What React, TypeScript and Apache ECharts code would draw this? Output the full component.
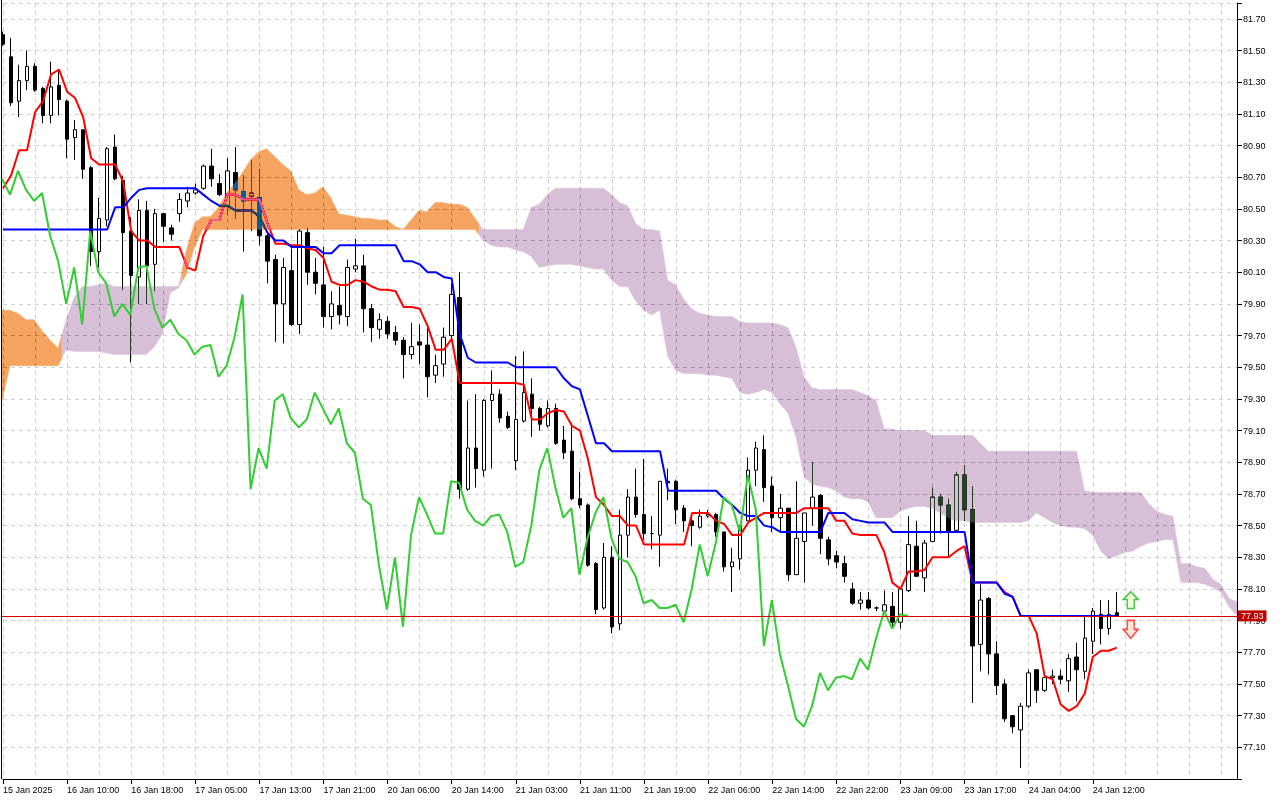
import React, { useEffect, useRef } from "react";
import * as echarts from "echarts";

// ---------- data ----------
const tickLabels = [
  "15 Jan 2025", "16 Jan 10:00", "16 Jan 18:00", "17 Jan 05:00", "17 Jan 13:00", "17 Jan 21:00",
  "20 Jan 06:00", "20 Jan 14:00", "21 Jan 03:00", "21 Jan 11:00", "21 Jan 19:00", "22 Jan 06:00",
  "22 Jan 14:00", "22 Jan 22:00", "23 Jan 09:00", "23 Jan 17:00", "24 Jan 04:00", "24 Jan 12:00",
];

const opens = [
  81.60, 81.46, 81.18, 81.31, 81.40, 81.26, 81.09, 81.28, 81.18, 80.95,
  81.00, 80.76, 80.23, 80.43, 80.89, 80.68, 80.36, 80.07, 80.49, 80.15,
  80.47, 80.38, 80.47, 80.55, 80.60, 80.63, 80.77, 80.66, 80.52, 80.73,
  80.61, 80.58, 80.57, 80.33, 80.18, 79.90, 80.11, 79.77, 80.35, 80.10,
  80.02, 79.82, 79.89, 79.82, 80.12, 80.14, 79.87, 79.74, 79.79, 79.72,
  79.67, 79.58, 79.66, 79.64, 79.45, 79.52, 79.70, 79.94, 78.73, 78.99,
  78.85, 79.29, 79.33, 79.19, 78.91, 79.16, 79.33, 79.24, 79.13, 79.24,
  79.04, 78.97, 78.67, 78.63, 78.26, 77.98, 78.30, 77.88, 78.44, 78.68,
  78.57, 78.45, 78.44, 78.78, 78.78, 78.61, 78.53, 78.49, 78.56, 78.57,
  78.46, 78.24, 78.29, 78.53, 78.85, 78.98, 78.75, 78.55, 78.61, 78.19,
  78.40, 78.61, 78.69, 78.41, 78.31, 78.26, 78.10, 78.01, 78.03, 77.98,
  77.96, 77.99, 77.89, 78.09, 78.37, 78.17, 78.40, 78.68, 78.63, 78.47,
  78.82, 78.60, 77.75, 78.04, 77.69, 77.50, 77.30, 77.21, 77.36, 77.59,
  77.46, 77.54, 77.55, 77.52, 77.67, 77.58, 77.77, 77.94, 77.85, 77.95,
];

const highs = [
  81.62, 81.58, 81.41, 81.50, 81.42, 81.27, 81.43, 81.38, 81.19, 81.06,
  81.00, 80.77, 80.57, 80.89, 80.97, 80.71, 80.45, 80.56, 80.55, 80.50,
  80.47, 80.40, 80.60, 80.64, 80.66, 80.78, 80.88, 80.72, 80.82, 80.89,
  80.71, 80.81, 80.75, 80.36, 80.21, 80.19, 80.25, 80.37, 80.38, 80.19,
  80.26, 79.98, 80.01, 80.18, 80.31, 80.21, 79.90, 79.84, 79.82, 79.76,
  79.69, 79.78, 79.77, 79.75, 79.58, 79.75, 80.03, 80.10, 79.29, 79.33,
  79.30, 79.48, 79.36, 79.22, 79.57, 79.60, 79.43, 79.25, 79.29, 79.27,
  79.13, 79.15, 78.84, 78.64, 78.27, 78.39, 78.37, 78.60, 78.73, 78.86,
  78.92, 78.56, 78.78, 78.86, 78.79, 78.63, 78.57, 78.60, 78.60, 78.58,
  78.46, 78.36, 78.50, 78.93, 79.03, 79.07, 78.81, 78.70, 78.61, 78.78,
  78.58, 78.90, 78.70, 78.43, 78.34, 78.31, 78.14, 78.08, 78.08, 77.99,
  78.09, 78.08, 78.10, 78.56, 78.53, 78.41, 78.74, 78.70, 78.67, 78.84,
  78.88, 78.75, 78.13, 78.05, 77.77, 77.53, 77.30, 77.38, 77.59, 77.59,
  77.54, 77.59, 77.59, 77.69, 77.76, 77.93, 77.98, 78.03, 78.03, 78.08,
];

const lows = [
  81.53, 81.15, 81.08, 81.25, 81.24, 81.04, 81.04, 81.09, 80.82, 80.81,
  80.69, 80.14, 80.13, 80.39, 80.68, 79.99, 79.53, 79.90, 79.90, 79.98,
  80.29, 80.30, 80.42, 80.51, 80.59, 80.62, 80.64, 80.58, 80.46, 80.44,
  80.23, 80.36, 80.27, 80.03, 79.66, 79.65, 79.76, 79.71, 80.02, 79.96,
  79.75, 79.74, 79.77, 79.76, 80.10, 79.72, 79.66, 79.68, 79.68, 79.64,
  79.43, 79.55, 79.52, 79.31, 79.40, 79.44, 79.67, 78.67, 78.72, 78.74,
  78.81, 78.86, 79.15, 79.11, 78.85, 79.15, 79.06, 79.10, 79.12, 79.01,
  78.92, 78.66, 78.61, 78.24, 77.94, 77.97, 77.82, 77.84, 78.30, 78.55,
  78.41, 78.35, 78.24, 78.66, 78.51, 78.46, 78.37, 78.48, 78.55, 78.43,
  78.21, 78.08, 78.22, 78.53, 78.75, 78.65, 78.46, 78.46, 78.15, 78.19,
  78.14, 78.50, 78.32, 78.25, 78.23, 78.14, 78.00, 77.97, 77.97, 77.96,
  77.95, 77.85, 77.85, 78.08, 78.18, 78.08, 78.40, 78.45, 78.30, 78.46,
  78.53, 77.38, 77.58, 77.56, 77.43, 77.26, 77.19, 76.97, 77.35, 77.38,
  77.45, 77.50, 77.50, 77.45, 77.39, 77.53, 77.69, 77.75, 77.81, 77.93,
];

const closes = [
  81.54, 81.17, 81.31, 81.40, 81.25, 81.09, 81.27, 81.19, 80.94, 81.00,
  80.75, 80.23, 80.44, 80.88, 80.69, 80.35, 80.08, 80.49, 80.14, 80.47,
  80.39, 80.34, 80.56, 80.60, 80.62, 80.77, 80.69, 80.59, 80.74, 80.62,
  80.55, 80.60, 80.33, 80.17, 79.90, 80.13, 79.77, 80.36, 80.10, 80.03,
  79.82, 79.90, 79.83, 80.13, 80.14, 79.87, 79.75, 79.80, 79.71, 79.67,
  79.58, 79.63, 79.64, 79.44, 79.51, 79.69, 79.96, 78.73, 78.99, 78.86,
  79.29, 79.33, 79.18, 79.12, 79.17, 79.34, 79.24, 79.14, 79.24, 79.02,
  78.96, 78.67, 78.63, 78.25, 77.97, 78.30, 77.86, 78.44, 78.68, 78.57,
  78.45, 78.45, 78.78, 78.77, 78.60, 78.53, 78.50, 78.56, 78.57, 78.46,
  78.24, 78.27, 78.50, 78.85, 78.99, 78.74, 78.55, 78.61, 78.19, 78.42,
  78.58, 78.68, 78.42, 78.29, 78.27, 78.18, 78.01, 78.03, 77.98, 77.98,
  78.00, 77.89, 78.10, 78.38, 78.18, 78.39, 78.68, 78.63, 78.46, 78.82,
  78.60, 77.74, 78.03, 77.69, 77.49, 77.28, 77.23, 77.36, 77.57, 77.46,
  77.54, 77.55, 77.53, 77.66, 77.59, 77.79, 77.96, 77.85, 77.94, 77.93,
];

// Tenkan-sen (red)
const tenkan = [
  80.63, 80.71, 80.87, 80.87, 81.11, 81.18, 81.35, 81.38, 81.24, 81.20,
  81.08, 80.82, 80.78, 80.78, 80.78, 80.67, 80.36, 80.30, 80.30, 80.26,
  80.26, 80.26, 80.26, 80.13, 80.11, 80.33, 80.43, 80.43, 80.59, 80.59,
  80.56, 80.56, 80.56, 80.41, 80.28, 80.28, 80.27, 80.27, 80.25, 80.24,
  80.19, 80.04, 80.02, 80.02, 80.05, 80.04, 80.01, 79.99, 79.99, 79.98,
  79.88, 79.88, 79.87, 79.76, 79.61, 79.61, 79.68, 79.40, 79.40, 79.40,
  79.40, 79.40, 79.40, 79.40, 79.40, 79.39, 79.17, 79.17, 79.21, 79.23,
  79.22, 79.13, 79.10, 78.92, 78.68, 78.63, 78.56, 78.56, 78.50, 78.50,
  78.38, 78.38, 78.38, 78.38, 78.38, 78.38, 78.58, 78.58, 78.58, 78.53,
  78.51, 78.44, 78.44, 78.52, 78.55, 78.58, 78.58, 78.58, 78.58, 78.58,
  78.61, 78.61, 78.61, 78.61, 78.53, 78.53, 78.45, 78.44, 78.44, 78.44,
  78.33, 78.14, 78.10, 78.21, 78.21, 78.22, 78.30, 78.30, 78.30, 78.34,
  78.37, 78.14, 78.14, 78.14, 78.14, 78.08, 78.05, 77.93, 77.93, 77.82,
  77.55, 77.53, 77.37, 77.33, 77.36, 77.44, 77.67, 77.71, 77.71, 77.73,
];

// Kijun-sen (blue)
const kijun = [
  80.37, 80.37, 80.37, 80.37, 80.37, 80.37, 80.37, 80.37, 80.37, 80.37,
  80.37, 80.37, 80.37, 80.37, 80.51, 80.51, 80.57, 80.62, 80.63, 80.63,
  80.63, 80.63, 80.63, 80.63, 80.63, 80.59, 80.55, 80.52, 80.52, 80.49,
  80.49, 80.49, 80.45, 80.35, 80.30, 80.30, 80.26, 80.26, 80.26, 80.26,
  80.22, 80.22, 80.27, 80.27, 80.27, 80.27, 80.27, 80.27, 80.27, 80.27,
  80.17, 80.17, 80.15, 80.10, 80.10, 80.07, 80.06, 79.71, 79.56, 79.53,
  79.53, 79.53, 79.53, 79.53, 79.50, 79.50, 79.50, 79.50, 79.50, 79.50,
  79.43, 79.38, 79.36, 79.19, 79.02, 79.02, 78.97, 78.97, 78.97, 78.97,
  78.97, 78.97, 78.97, 78.72, 78.72, 78.72, 78.72, 78.72, 78.72, 78.72,
  78.67, 78.63, 78.58, 78.56, 78.56, 78.50, 78.49, 78.46, 78.46, 78.46,
  78.46, 78.46, 78.46, 78.58, 78.58, 78.58, 78.54, 78.53, 78.52, 78.52,
  78.52, 78.46, 78.46, 78.46, 78.46, 78.46, 78.46, 78.46, 78.46, 78.46,
  78.46, 78.14, 78.14, 78.14, 78.14, 78.07, 78.05, 77.93, 77.93, 77.93,
  77.93, 77.93, 77.93, 77.93, 77.93, 77.93, 77.93, 77.93, 77.93, 77.93,
];

// Senkou span A / B (already shifted forward on the chart)
const spanA = [
  79.86, 79.86, 79.84, 79.80, 79.80, 79.73, 79.67, 79.62, 79.61, 79.60,
  79.60, 79.60, 79.60, 79.59, 79.58, 79.58, 79.58, 79.58, 79.58, 79.63,
  79.71, 79.97, 80.00, 80.24, 80.41, 80.45, 80.45, 80.51, 80.60, 80.66,
  80.73, 80.81, 80.86, 80.88, 80.83, 80.78, 80.74, 80.62, 80.59, 80.60,
  80.64, 80.57, 80.47, 80.46, 80.45, 80.44, 80.44, 80.43, 80.43, 80.39,
  80.37, 80.43, 80.49, 80.48, 80.54, 80.54, 80.53, 80.53, 80.51, 80.44,
  80.30, 80.27, 80.26, 80.26, 80.24, 80.23, 80.20, 80.13, 80.14, 80.15,
  80.15, 80.15, 80.14, 80.13, 80.12, 80.12, 80.05, 80.01, 80.01, 79.92,
  79.86, 79.83, 79.86, 79.57, 79.48, 79.46, 79.46, 79.46, 79.45, 79.45,
  79.44, 79.43, 79.34, 79.33, 79.34, 79.36, 79.34, 79.27, 79.21, 79.06,
  78.81, 78.76, 78.75, 78.74, 78.72, 78.68, 78.67, 78.67, 78.65, 78.55,
  78.55, 78.55, 78.59, 78.61, 78.62, 78.62, 78.61, 78.58, 78.55, 78.53,
  78.53, 78.52, 78.52, 78.52, 78.52, 78.52, 78.52, 78.52, 78.53, 78.58,
  78.55, 78.52, 78.50, 78.49, 78.49, 78.48, 78.44, 78.34, 78.29, 78.31,
  78.33, 78.34, 78.37, 78.39, 78.40, 78.41, 78.41, 78.14, 78.14, 78.14,
  78.13, 78.11, 78.08, 77.99, 77.93,
];

const spanB = [
  79.29, 79.51, 79.51, 79.51, 79.51, 79.51, 79.51, 79.51, 79.80, 79.94,
  80.01, 80.01, 80.02, 80.03, 80.01, 80.01, 80.01, 80.01, 80.01, 80.01,
  80.01, 80.01, 80.01, 80.09, 80.26, 80.37, 80.37, 80.37, 80.37, 80.37,
  80.37, 80.37, 80.37, 80.37, 80.37, 80.37, 80.37, 80.37, 80.37, 80.37,
  80.37, 80.37, 80.37, 80.37, 80.37, 80.37, 80.37, 80.37, 80.37, 80.37,
  80.37, 80.37, 80.37, 80.37, 80.37, 80.37, 80.37, 80.37, 80.37, 80.37,
  80.37, 80.37, 80.37, 80.37, 80.37, 80.37, 80.51, 80.53, 80.59, 80.63,
  80.63, 80.63, 80.63, 80.63, 80.63, 80.63, 80.59, 80.54, 80.52, 80.41,
  80.37, 80.37, 80.36, 80.05, 80.02, 79.93, 79.87, 79.84, 79.83, 79.82,
  79.82, 79.82, 79.79, 79.78, 79.78, 79.78, 79.78, 79.77, 79.75, 79.63,
  79.44, 79.37, 79.36, 79.36, 79.36, 79.36, 79.36, 79.34, 79.32, 79.29,
  79.11, 79.11, 79.10, 79.10, 79.10, 79.10, 79.07, 79.07, 79.07, 79.07,
  79.07, 79.07, 79.02, 78.97, 78.97, 78.97, 78.97, 78.97, 78.97, 78.97,
  78.97, 78.97, 78.97, 78.97, 78.97, 78.72, 78.71, 78.71, 78.71, 78.71,
  78.71, 78.71, 78.71, 78.64, 78.59, 78.57, 78.56, 78.26, 78.26, 78.24,
  78.23, 78.16, 78.13, 78.04, 78.02,
];

const chikouShift = 26;
const currentPrice = 77.93;
const totalBars = spanA.length; // 155 slots incl. future cloud

// ---------- layout / style ----------
const GRID = { left: 2, right: 43, top: 3, bottom: 21 };
const Y_MIN = 76.9;
const Y_MAX = 81.8;
const FONT = "Liberation Sans, Arial, sans-serif";
const GRID_LINE = { color: "#cfcfcf", type: [4, 4] as number[], width: 1 };
// Cloud is drawn like MT4 (XOR): inverse colours blended with "difference"
const CLOUD_UP_INV = "#0b5b9f"; // -> sandy brown over white
const CLOUD_DN_INV = "#274027"; // -> thistle over white

const categories = Array.from({ length: totalBars }, (_, i) => String(i));
const isLabelIdx = (i: number) => i % 8 === 0 && i / 8 < tickLabels.length;

function makeAxes(visible: boolean) {
  return {
    xAxis: {
      type: "category",
      data: categories,
      boundaryGap: false,
      axisLine: { show: visible, lineStyle: { color: "#000", width: 1 } },
      axisTick: {
        show: visible,
        length: 5,
        interval: (i: number) => isLabelIdx(i),
        lineStyle: { color: "#000" },
      },
      axisLabel: {
        show: visible,
        interval: (i: number) => isLabelIdx(i),
        formatter: (_v: string, i: number) => (isLabelIdx(i) ? tickLabels[i / 8] : ""),
        align: "left",
        margin: 6,
        color: "#000",
        fontSize: 9,
        fontFamily: FONT,
      },
      splitLine: {
        show: visible,
        interval: 3,
        lineStyle: GRID_LINE,
      },
    },
    yAxis: {
      type: "value",
      position: "right",
      min: Y_MIN,
      max: Y_MAX,
      interval: 0.2,
      axisLine: { show: visible, onZero: false, lineStyle: { color: "#000", width: 1 } },
      axisTick: { show: visible, length: 5, lineStyle: { color: "#000" } },
      axisLabel: {
        show: visible,
        formatter: (v: number) => (v < 77 || v > 81.75 ? "" : v.toFixed(2)),
        margin: 6,
        color: "#000",
        fontSize: 9,
        fontFamily: FONT,
      },
      splitLine: { show: visible, lineStyle: GRID_LINE },
    },
  };
}

// bottom layer: axes, candles, tenkan, kijun
function buildMainOption() {
  const candleData = opens.map((o, i) => [o, closes[i], lows[i], highs[i]]);
  return {
    animation: false,
    backgroundColor: "#ffffff",
    grid: GRID,
    ...makeAxes(true),
    graphic: [
      {
        type: "line",
        shape: { x1: 1.5, y1: 0, x2: 1.5, y2: 779 },
        style: { stroke: "#000", lineWidth: 1 },
      },
    ],
    series: [
      {
        type: "candlestick",
        data: candleData,
        barWidth: 4,
        itemStyle: {
          color: "#ffffff",
          color0: "#000000",
          borderColor: "#000000",
          borderColor0: "#000000",
          borderWidth: 1,
        },
      },
      {
        type: "line",
        name: "Tenkan-sen",
        data: tenkan,
        symbol: "none",
        lineStyle: { color: "#ff0000", width: 2 },
        itemStyle: { color: "#ff0000" },
      },
      {
        type: "line",
        name: "Kijun-sen",
        data: kijun,
        symbol: "none",
        lineStyle: { color: "#0000ff", width: 2 },
        itemStyle: { color: "#0000ff" },
      },
    ],
  };
}

// middle layer: cloud (blended with "difference" like MT4's XOR histogram)
function buildCloudOption() {
  const n = spanA.length;
  const top = (k: number) => Math.max(spanA[k], spanB[k]);
  const bot = (k: number) => Math.min(spanA[k], spanB[k]);
  const isUp = (k: number) => spanA[k] >= spanB[k];
  const runStart = (k: number) => k === 0 || isUp(k) !== isUp(k - 1);
  return {
    animation: false,
    grid: GRID,
    ...makeAxes(false),
    series: [
      {
        type: "custom",
        clip: true,
        silent: true,
        data: spanA.map((a, i) => [i, a, spanB[i]]),
        encode: { x: 0, y: [1, 2] },
        renderItem: (params: any, api: any) => {
          const s = params.dataIndex;
          if (!runStart(s)) return null;
          let e = s;
          while (e + 1 < n && isUp(e + 1) === isUp(s)) e++;
          const topPts: number[][] = [];
          const botPts: number[][] = [];
          for (let k = s; k <= e; k++) {
            topPts.push(api.coord([k, top(k)]));
            botPts.push(api.coord([k, bot(k)]));
          }
          const step =
            n > 1 ? api.coord([1, top(0)])[0] - api.coord([0, top(0)])[0] : 8;
          // left edge (midway to previous bar)
          const xl = topPts[0][0] - step / 2;
          const ltY = s > 0 ? (api.coord([s - 1, top(s - 1)])[1] + topPts[0][1]) / 2 : topPts[0][1];
          const lbY = s > 0 ? (api.coord([s - 1, bot(s - 1)])[1] + botPts[0][1]) / 2 : botPts[0][1];
          // right edge (midway to next bar)
          const last = topPts.length - 1;
          const xr = topPts[last][0] + step / 2;
          const rtY = e < n - 1 ? (api.coord([e + 1, top(e + 1)])[1] + topPts[last][1]) / 2 : topPts[last][1];
          const rbY = e < n - 1 ? (api.coord([e + 1, bot(e + 1)])[1] + botPts[last][1]) / 2 : botPts[last][1];
          const points = [
            [xl, ltY],
            ...topPts,
            [xr, rtY],
            [xr, rbY],
            ...botPts.reverse(),
            [xl, lbY],
          ];
          const color = isUp(s) ? CLOUD_UP_INV : CLOUD_DN_INV;
          return {
            type: "polygon",
            shape: { points },
            style: { fill: color, stroke: color, lineWidth: 0.5 },
          };
        },
      },
    ],
  };
}

// top layer: chikou span, current price line, trade arrows
function buildTopOption() {
  const chikou = closes.slice(chikouShift);
  return {
    animation: false,
    grid: GRID,
    ...makeAxes(false),
    series: [
      {
        type: "line",
        name: "Chikou Span",
        data: chikou,
        symbol: "none",
        lineStyle: { color: "#32cd32", width: 2 },
        itemStyle: { color: "#32cd32" },
        markLine: {
          silent: true,
          symbol: ["none", "none"],
          data: [{ yAxis: currentPrice }],
          lineStyle: { color: "#e00000", width: 1, type: "solid" },
          label: {
            show: true,
            position: "end",
            distance: 1,
            formatter: () => currentPrice.toFixed(2),
            color: "#ffffff",
            backgroundColor: "#c00000",
            padding: [1, 3, 0, 3],
            lineHeight: 10,
            fontSize: 9,
            fontFamily: FONT,
          },
        },
        markPoint: {
          silent: true,
          label: { show: false },
          data: [
            {
              coord: [141, 78.03],
              symbol: "path://M7.5,0L15,8L11,8L11,17L4,17L4,8L0,8Z",
              symbolSize: [15, 17],
              symbolOffset: [-2, 0],
              itemStyle: { color: "#f0ffd8", borderColor: "#46c646", borderWidth: 1.5 },
            },
            {
              coord: [141, 77.845],
              symbol: "path://M4,0L11,0L11,9L15,9L7.5,18L0,9L4,9Z",
              symbolSize: [15, 18],
              symbolOffset: [-2, 0],
              itemStyle: { color: "#ffe6d6", borderColor: "#ff4646", borderWidth: 1.5 },
            },
          ],
        },
      },
    ],
  };
}

const layerStyle: React.CSSProperties = {
  position: "absolute",
  left: 0,
  top: 0,
  width: 1280,
  height: 800,
};

export default function App() {
  const mainRef = useRef<HTMLDivElement>(null);
  const cloudRef = useRef<HTMLDivElement>(null);
  const topRef = useRef<HTMLDivElement>(null);

  useEffect(() => {
    const main = echarts.init(mainRef.current!, null, { renderer: "svg" });
    main.setOption(buildMainOption() as any);
    const cloud = echarts.init(cloudRef.current!, null, { renderer: "svg" });
    cloud.setOption(buildCloudOption() as any);
    const top = echarts.init(topRef.current!, null, { renderer: "svg" });
    top.setOption(buildTopOption() as any);
    return () => {
      main.dispose();
      cloud.dispose();
      top.dispose();
    };
  }, []);

  return (
    <div
      style={{
        position: "fixed",
        left: 0,
        top: 0,
        width: 1280,
        height: 800,
        background: "#ffffff",
        overflow: "hidden",
      }}
    >
      <div ref={mainRef} style={layerStyle} />
      <div
        ref={cloudRef}
        style={{ ...layerStyle, mixBlendMode: "difference", pointerEvents: "none" }}
      />
      <div ref={topRef} style={{ ...layerStyle, pointerEvents: "none" }} />
    </div>
  );
}
